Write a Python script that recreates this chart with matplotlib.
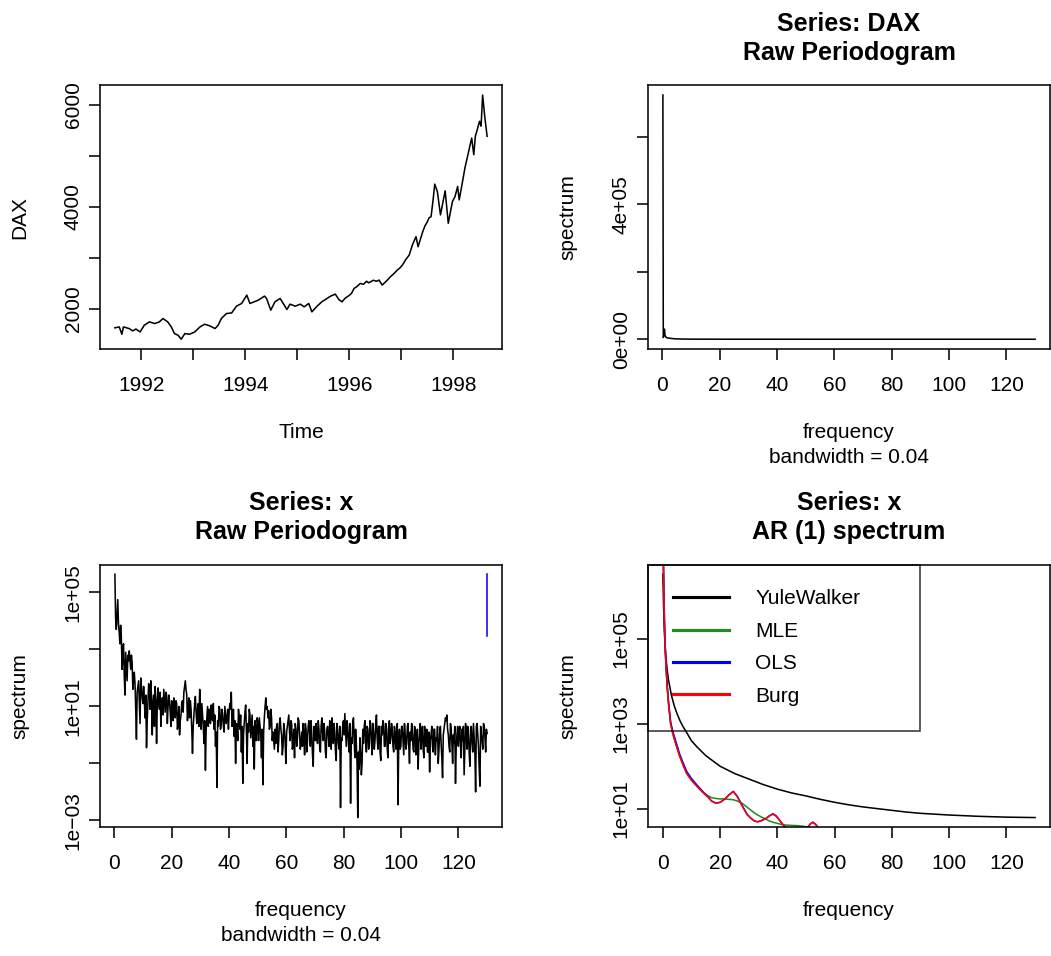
import numpy as np
import matplotlib
matplotlib.use("Agg")
import matplotlib.pyplot as plt
from matplotlib.lines import Line2D

plt.rcParams['font.family'] = ['Liberation Sans', 'DejaVu Sans']

# ---------------- data ----------------
dax_time = [1991.496, 1991.58, 1991.63, 1991.66, 1991.77, 1991.84, 1991.90, 1991.98,
            1992.06, 1992.16, 1992.26, 1992.35, 1992.42, 1992.51, 1992.58, 1992.64,
            1992.71, 1992.77, 1992.84, 1992.93, 1993.03, 1993.13, 1993.22, 1993.32,
            1993.42, 1993.48, 1993.54, 1993.64, 1993.74, 1993.83, 1993.93, 1994.03,
            1994.09, 1994.17, 1994.25, 1994.37, 1994.41, 1994.49, 1994.57, 1994.67,
            1994.75, 1994.80, 1994.86, 1994.96, 1995.06, 1995.13, 1995.22, 1995.28,
            1995.38, 1995.47, 1995.57, 1995.64, 1995.73, 1995.80, 1995.86, 1995.92,
            1995.98, 1996.04, 1996.09, 1996.15, 1996.21, 1996.27, 1996.33, 1996.37,
            1996.41, 1996.46, 1996.52, 1996.57, 1996.63, 1996.73, 1996.78, 1996.86,
            1996.92, 1996.97, 1997.02, 1997.08, 1997.15, 1997.21, 1997.28, 1997.32,
            1997.41, 1997.45, 1997.50, 1997.53, 1997.57, 1997.61, 1997.64, 1997.69,
            1997.75, 1997.84, 1997.90, 1997.98, 1998.03, 1998.08, 1998.11, 1998.18,
            1998.22, 1998.27, 1998.35, 1998.39, 1998.42, 1998.46, 1998.50, 1998.53,
            1998.56, 1998.60, 1998.646]
dax_value = [1628, 1646, 1502, 1646, 1614, 1568, 1605, 1548,
             1679, 1745, 1712, 1745, 1810, 1745, 1646, 1516,
             1483, 1405, 1516, 1502, 1548, 1646, 1699, 1666,
             1614, 1679, 1810, 1908, 1921, 2052, 2105, 2268,
             2105, 2137, 2170, 2249, 2203, 1974, 2137, 2203,
             2072, 1987, 2092, 2052, 2092, 2039, 2105, 1941,
             2052, 2137, 2203, 2249, 2288, 2180, 2137, 2210,
             2250, 2300, 2399, 2440, 2498, 2480, 2540, 2510,
             2530, 2560, 2540, 2563, 2465, 2563, 2620, 2694,
             2760, 2800, 2858, 2960, 3054, 3250, 3414, 3217,
             3512, 3620, 3709, 3780, 3807, 4150, 4442, 4298,
             3840, 4311, 3676, 4102, 4200, 4396, 4134, 4527,
             4760, 4985, 5345, 5018, 5378, 5520, 5673, 5575,
             6186, 5771, 5378]

pg_dax_freq = [0.14, 0.28, 0.42, 0.56, 0.69, 0.83, 0.97, 1.11, 1.25, 1.39, 2.0, 3.0,
               4.0, 5.0, 7.0, 10.0, 20.0, 50.0, 90.0, 130.0]
pg_dax_spec = [7.24e5, 5.0e3, 9.0e3, 2.2e4, 3.0e4, 1.4e4, 1.0e4, 8.0e3, 6.0e3, 5.0e3,
               3.5e3, 2.5e3, 1.5e3, 1.0e3, 600, 300, 100, 30, 15, 10]

# raw periodogram of x, log10(spectrum): values at the even frequency steps ...
pg_x_log10_a = [
    5.64, 3.70, 4.75, 3.60, 3.85, 2.30, 3.20, 1.40, 2.40, 2.80,
    2.95, 2.30, 2.55, 1.95, 1.80, -0.15, 1.70, 1.20, 2.00, 1.30,
    1.70, 0.60, -0.45, 1.20, 1.60, 1.90, 0.00, 1.40, 1.70, -0.30,
    1.65, 0.90, 0.30, 1.30, 1.60, 0.80, 1.40, 1.00, 1.20, 0.30,
    1.10, 1.30, 0.60, 1.10, 0.40, 0.00, 0.70, 1.20, 1.50, 1.90,
    1.40, 1.00, 0.60, 0.90, -0.65, 0.70, 1.35, 0.40, 1.10, 1.60,
    0.20, 0.70, -0.30, -1.24, 0.60, 0.30, 0.80, 1.05, 0.50, 0.20,
    -0.40, -1.84, 0.30, 0.90, 0.40, 0.70, 0.10, 0.70, 0.60, 0.20,
    1.10, 1.50, 0.50, -0.05, -1.00, 0.30, 0.90, 0.20, -0.60, -1.70,
    0.40, 1.05, -1.00, 0.10, 0.70, 0.30, -0.40, -1.20, 0.20, 0.60,
    -0.20, 0.30, -0.80, -1.75, 0.60, 1.30, 1.00, 0.85, 0.30, 0.60,
    0.10, -0.50, -0.30, 0.40, -0.20, 0.60, 0.00, -0.40, 0.20, -1.00,
    0.30, 0.70, -0.20, 0.40, -0.30, -0.80, 0.20, -0.10, 0.50, -0.50,
    0.10, 0.40, -0.70, 0.20, -0.20, 0.50, -0.40, 0.00, -1.10, 0.10,
    0.40, -0.30, 0.20, -0.60, 0.60, -0.20, 0.10, -0.80, 0.30, -0.40,
    0.20, 0.60, -0.30, 0.10, -0.90, 0.20, -0.50, -2.55, -0.20, 0.50,
    0.75, -0.40, 0.30, -0.60, -2.40, -0.30, 0.60, -0.80, -0.30, -2.90,
    -1.20, -0.60, -1.00, -0.30, 0.50, -0.60, 0.20, -0.40, 0.40, -0.70,
    0.10, -0.20, 0.70, -0.50, 0.30, -0.90, 0.00, 0.40, -0.40, 0.20,
    -0.80, 0.50, -0.10, 0.20, -0.60, 0.10, -0.30, -2.45, 0.20, -0.40,
    0.30, -0.70, 0.00, -0.30, 0.40, -1.00, -0.20, 0.10, -0.60, 0.20,
    -0.40, -1.20, 0.00, -0.50, 0.30, -0.80, -0.10, 0.20, -0.60, -1.30,
    0.00, -0.40, 0.20, -0.70, -0.20, -1.00, 0.10, -0.30, -1.50, 0.20,
    0.60, 0.70, 0.00, -0.60, 0.20, -1.00, -0.30, -1.70, 0.00, -0.40,
    0.30, -0.80, -0.20, -1.40, 0.40, -0.50, 0.00, -1.10, 0.30, -0.60,
    -0.10, -2.00, 0.40, -0.40, -1.80, 0.00, -0.50, 0.30, -0.60, 0.05]
# ... and at the odd frequency steps in between
pg_x_log10_b = [
    4.10, 4.20, 3.90, 3.20, 3.40, 2.90, 2.10, 2.90, 1.90, 2.60,
    2.60, 2.80, 1.60, 2.20, 0.90, 1.50, 1.90, 0.40, 1.70, 1.10,
    1.20, 1.40, 0.50, 1.80, 0.90, 1.30, 1.10, 0.30, 1.20, 1.10,
    1.20, 1.50, 1.10, 0.70, 1.20, 1.50, 0.40, 1.40, 0.80, 1.20,
    0.50, 0.90, 1.20, 0.20, 1.00, 0.50, 1.10, 0.80, 1.70, 1.60,
    0.50, 1.30, 1.20, 0.20, 0.30, 1.10, 0.80, 0.90, 0.30, 1.00,
    1.10, 0.30, 0.50, 0.20, 1.00, 0.90, 0.40, 0.60, 1.10, 0.70,
    0.10, 0.50, 1.00, 0.20, 0.90, 0.30, 1.00, 0.40, 0.90, 0.80,
    0.90, 0.30, 0.90, 0.50, 0.40, -0.20, 0.60, 0.70, 0.30, 0.00,
    0.80, 0.20, 0.40, 0.90, -0.10, 0.70, 0.30, 0.50, -0.20, 0.40,
    0.60, 0.00, 0.20, 0.10, 1.00, 0.90, 0.60, 0.20, 0.90, -0.20,
    -0.20, 0.20, 0.30, -0.60, 0.40, 0.20, -0.70, 0.40, -0.30, 0.10,
    0.50, 0.10, 0.50, -0.50, 0.20, 0.40, -0.40, 0.60, 0.00, -0.30,
    -0.40, 0.00, 0.40, -0.60, 0.30, 0.10, 0.50, -0.70, 0.30, -0.20,
    0.00, 0.50, -0.40, 0.30, 0.10, 0.40, -0.60, 0.20, 0.00, 0.50,
    -0.50, 0.10, 0.40, -0.60, 0.40, -0.30, 0.30, -0.10, 0.30, 0.00,
    0.20, 0.50, -0.30, 0.40, -0.10, 0.40, -0.20, 0.20, -1.00, -0.60,
    -0.10, -1.40, 0.20, 0.30, -0.20, 0.30, -0.50, 0.50, -0.20, 0.40,
    -0.50, 0.40, -0.10, 0.30, -0.60, 0.30, 0.50, -0.40, 0.40, -0.50,
    0.30, -0.30, 0.40, -0.40, 0.30, -0.50, 0.40, -0.30, -0.50, 0.30,
    -0.20, 0.40, -0.50, 0.30, -0.40, 0.10, 0.40, -0.50, 0.30, -0.70,
    0.20, -0.30, 0.40, 0.00, -0.50, 0.30, -0.40, -0.60, 0.10, -0.20,
    0.30, -0.60, 0.20, -0.10, 0.30, -0.50, 0.30, -0.80, 0.00, 0.40,
    0.50, 0.20, -0.40, 0.40, -0.30, 0.00, 0.30, -0.40, 0.30, 0.10,
    -0.40, 0.20, 0.30, -0.50, 0.10, 0.30, -0.60, 0.20, -0.30, 0.40,
    -0.60, 0.30, 0.00, -1.20, 0.30, -0.20, 0.40, -0.10, 0.20]
pg_x_fmin, pg_x_fmax = 0.14, 130.0
bandwidth = 0.04
ci_factors = [0.2711, 39.50]   # 2/qchisq(0.975,2), 2/qchisq(0.025,2)

yw_freq = [0, 0.26, 0.52, 0.78, 1.04, 1.5, 2, 3, 4, 5, 6, 7, 8, 10, 12, 15, 20, 25, 30,
           35, 40, 45, 50, 55, 60, 65, 70, 75, 80, 85, 90, 95, 100, 110, 120, 130]
yw_log10 = [6.53, 5.72, 5.17, 4.83, 4.59, 4.27, 4.02, 3.67, 3.42, 3.23, 3.07, 2.94, 2.83,
            2.60, 2.45, 2.25, 2.00, 1.83, 1.70, 1.57, 1.46, 1.37, 1.30, 1.22, 1.15, 1.09,
            1.04, 1.00, 0.96, 0.92, 0.89, 0.87, 0.85, 0.82, 0.80, 0.79]

ar_freq = [0, 0.26, 0.52, 0.78, 1.04, 1.5, 2, 2.7, 3.5, 4.2, 5, 5.8, 7, 8.3, 10, 12, 14,
           15.6, 17, 18.5, 20, 21.5, 23, 24.6, 26, 27.8, 29.5, 30.8, 32, 33.1, 34.5, 36,
           37.2, 38.4, 39.6, 40.7, 42, 43.6, 45, 47, 49, 50.5, 51.5, 52.4, 53.5, 54.7, 56,
           60, 70, 80, 100, 130]
mle_log10 = [7.6, 6.46, 5.44, 4.84, 4.42, 3.87, 3.45, 3.0, 2.76, 2.6, 2.42, 2.25, 2.04,
             1.83, 1.67, 1.52, 1.38, 1.31, 1.26, 1.24, 1.23, 1.23, 1.22, 1.21, 1.18, 1.12,
             1.03, 0.96, 0.90, 0.85, 0.80, 0.75, 0.71, 0.68, 0.66, 0.64, 0.62, 0.61, 0.605,
             0.60, 0.585, 0.565, 0.55, 0.54, 0.52, 0.50, 0.48, 0.42, 0.35, 0.30, 0.25, 0.25]
ols_log10 = [7.6, 6.45, 5.48, 4.88, 4.46, 3.92, 3.50, 3.05, 2.81, 2.66, 2.48, 2.30, 2.09,
             1.88, 1.71, 1.55, 1.40, 1.29, 1.18, 1.13, 1.15, 1.22, 1.32, 1.41, 1.29, 1.06,
             0.86, 0.77, 0.71, 0.69, 0.72, 0.77, 0.83, 0.88, 0.83, 0.73, 0.62, 0.51, 0.42,
             0.36, 0.40, 0.55, 0.64, 0.68, 0.62, 0.50, 0.38, 0.25, 0.20, 0.15, 0.10, 0.10]
burg_log10 = [7.6, 6.46, 5.44, 4.84, 4.42, 3.87, 3.45, 3.0, 2.76, 2.6, 2.42, 2.25, 2.04,
              1.83, 1.67, 1.52, 1.38, 1.28, 1.18, 1.13, 1.15, 1.22, 1.32, 1.40, 1.28, 1.05,
              0.85, 0.77, 0.71, 0.69, 0.72, 0.77, 0.83, 0.87, 0.82, 0.73, 0.62, 0.51, 0.42,
              0.36, 0.40, 0.55, 0.64, 0.68, 0.62, 0.50, 0.38, 0.25, 0.20, 0.15, 0.10, 0.10]
legend_labels = ["YuleWalker", "MLE", "OLS", "Burg"]
legend_colors = ["black", "forestgreen", "blue", "red"]

# ---------------- layout ----------------
W, H, DPI = 1051, 956, 150
fig = plt.figure(figsize=(W / DPI, H / DPI), dpi=DPI)
LW = 0.75


def px_axes(l, t, r, b):
    return fig.add_axes([l / W, 1 - b / H, (r - l) / W, (b - t) / H])


def rpad(lo, hi):
    d = 0.04 * (hi - lo)
    return lo - d, hi + d


def style(ax):
    for s in ax.spines.values():
        s.set_linewidth(LW)
    ax.tick_params(direction='out', length=5.3, width=LW, labelsize=10)
    ax.tick_params(axis='x', pad=7.5)
    ax.tick_params(axis='y', pad=3)


def xlab(box, s, dy=89):
    l, t, r, b = box
    fig.text(((l + r) / 2) / W, 1 - (b + dy) / H, s, ha='center', va='baseline', fontsize=10)


def ylab(box, s):
    l, t, r, b = box
    fig.text((l - 75) / W, 1 - ((t + b) / 2) / H, s, rotation=90, rotation_mode='anchor',
             ha='center', va='baseline', fontsize=10)


def title(ax, s):
    ax.set_title(s, fontsize=12, fontweight='bold', pad=12, linespacing=1.28)


B1 = (100, 85.3, 502, 349)
B2 = (648, 85.3, 1050, 349)
B3 = (100, 564.5, 502, 827.3)
B4 = (648, 564.5, 1050, 827.3)
ax1, ax2, ax3, ax4 = [px_axes(*b) for b in (B1, B2, B3, B4)]
for ax in (ax1, ax2, ax3, ax4):
    style(ax)

# ---- panel 1: DAX time series ----
ax1.plot(dax_time, dax_value, color='black', lw=LW)
ax1.set_xlim(rpad(min(dax_time), max(dax_time)))
ax1.set_ylim(rpad(min(dax_value), max(dax_value)))
ax1.set_xticks([1992, 1993, 1994, 1995, 1996, 1997, 1998],
               labels=['1992', '', '1994', '', '1996', '', '1998'])
ax1.set_yticks([2000, 3000, 4000, 5000, 6000],
               labels=['2000', '', '4000', '', '6000'], rotation=90, va='center')
xlab(B1, 'Time')
ylab(B1, 'DAX')

# ---- panel 2: raw periodogram of DAX ----
ax2.plot(pg_dax_freq, pg_dax_spec, color='black', lw=LW)
ax2.set_xlim(rpad(min(pg_dax_freq), max(pg_dax_freq)))
ax2.set_ylim(rpad(min(pg_dax_spec), max(pg_dax_spec)))
ax2.set_xticks([0, 20, 40, 60, 80, 100, 120])
ax2.set_yticks([0, 2e5, 4e5, 6e5], labels=['0e+00', '', '4e+05', ''], rotation=90, va='center')
title(ax2, 'Series: DAX\nRaw Periodogram')
xlab(B2, 'frequency')
xlab(B2, 'bandwidth = 0.04', dy=114)
ylab(B2, 'spectrum')

# ---- panel 3: raw periodogram of x (log) ----
pg_x_log10 = []
for i, v in enumerate(pg_x_log10_a):
    pg_x_log10.append(v)
    if i < len(pg_x_log10_b):
        pg_x_log10.append(pg_x_log10_b[i])
pg_x_freq = np.linspace(pg_x_fmin, pg_x_fmax, len(pg_x_log10))
pg_x_spec = 10 ** np.array(pg_x_log10)
ax3.plot(pg_x_freq, pg_x_spec, color='black', lw=LW)
ax3.set_yscale('log')
lo3, hi3 = rpad(min(pg_x_log10), max(pg_x_log10))
ax3.set_ylim(10 ** lo3, 10 ** hi3)
ax3.set_xlim(rpad(pg_x_freq.min(), pg_x_freq.max()))
conf_x = pg_x_freq.max() - bandwidth
conf_y = pg_x_spec.max() / ci_factors[1]
ax3.plot([conf_x, conf_x], [conf_y * ci_factors[0], conf_y * ci_factors[1]], color='blue', lw=LW)
ax3.plot([conf_x - bandwidth / 2, conf_x + bandwidth / 2], [conf_y, conf_y], color='blue', lw=LW)
ax3.set_xticks([0, 20, 40, 60, 80, 100, 120])
ax3.set_yticks([1e-3, 1e-1, 1e1, 1e3, 1e5],
               labels=['1e\u221203', '', '1e+01', '', '1e+05'], rotation=90, va='center')
ax3.yaxis.set_minor_locator(matplotlib.ticker.NullLocator())
title(ax3, 'Series: x\nRaw Periodogram')
xlab(B3, 'frequency')
xlab(B3, 'bandwidth = 0.04', dy=114)
ylab(B3, 'spectrum')

# ---- panel 4: AR spectra ----
ax4.plot(yw_freq, 10 ** np.array(yw_log10), color=legend_colors[0], lw=LW)
ax4.plot(ar_freq, 10 ** np.array(mle_log10), color=legend_colors[1], lw=LW)
ax4.plot(ar_freq, 10 ** np.array(ols_log10), color=legend_colors[2], lw=LW)
ax4.plot(ar_freq, 10 ** np.array(burg_log10), color=legend_colors[3], lw=LW)
ax4.set_yscale('log')
lo4, hi4 = rpad(min(yw_log10), max(yw_log10))
ax4.set_ylim(10 ** lo4, 10 ** hi4)
ax4.set_xlim(rpad(min(yw_freq), max(yw_freq)))
ax4.set_xticks([0, 20, 40, 60, 80, 100, 120])
ax4.set_yticks([1e1, 1e3, 1e5], labels=['1e+01', '1e+03', '1e+05'], rotation=90, va='center')
ax4.yaxis.set_minor_locator(matplotlib.ticker.NullLocator())
handles = [Line2D([], [], color=c, lw=1.5) for c in legend_colors]
leg = ax4.legend(handles, legend_labels, loc='upper left',
                 bbox_to_anchor=(0, 0, (920 - 648) / 402, 1), mode='expand',
                 borderaxespad=0, borderpad=1.2, labelspacing=0.64,
                 handlelength=2.7, handletextpad=1.25, fontsize=10,
                 fancybox=False, frameon=True)
leg.get_frame().set_edgecolor('black')
leg.get_frame().set_linewidth(LW)
leg.get_frame().set_facecolor('none')
title(ax4, 'Series: x\nAR (1) spectrum')
xlab(B4, 'frequency')
ylab(B4, 'spectrum')

fig.savefig('out.png', dpi=DPI)
